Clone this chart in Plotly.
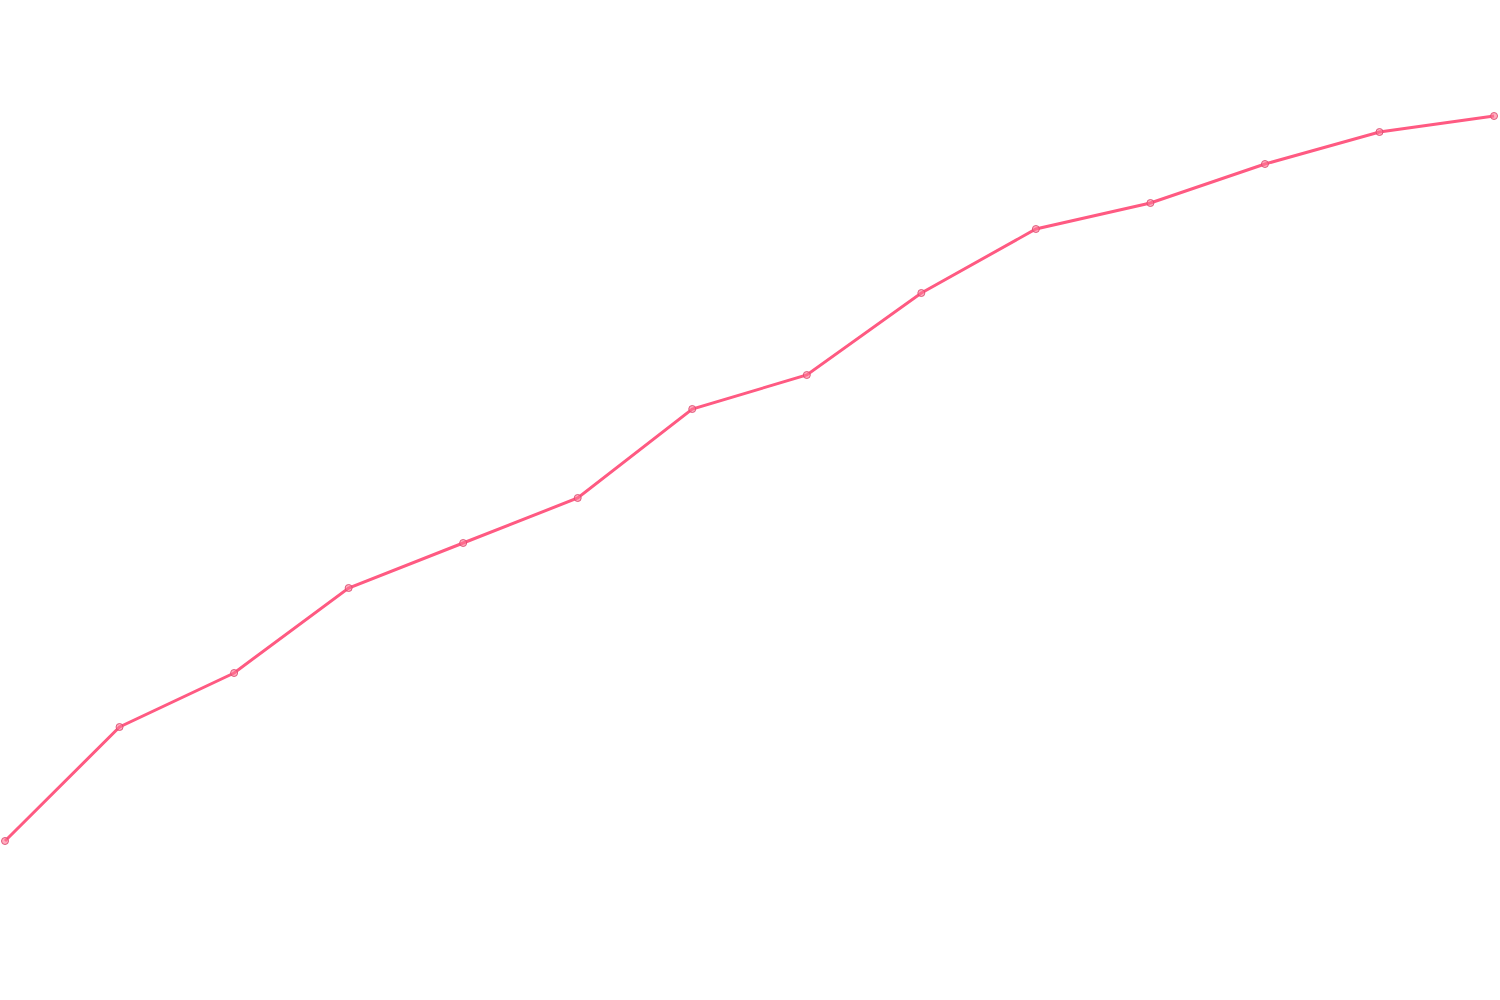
import plotly.graph_objects as go

# 14 evenly spaced points
steps = list(range(14))
values = [159, 273, 327, 412, 457, 502, 591, 625, 707, 771, 797, 836, 868, 884]

fig = go.Figure()
fig.add_trace(go.Scatter(
    x=steps,
    y=values,
    mode='lines+markers',
    line=dict(color='#ff5a82', width=3),
    marker=dict(size=7, color='rgba(255,120,150,0.6)',
                line=dict(color='rgba(220,80,115,0.9)', width=1)),
    showlegend=False,
))

fig.update_layout(
    width=1500,
    height=1000,
    margin=dict(l=0, r=0, t=0, b=0),
    paper_bgcolor='white',
    plot_bgcolor='white',
    xaxis=dict(range=[-0.0437, 13.052], visible=False),
    yaxis=dict(range=[0, 1000], visible=False),
)

# drop the browser's default body margin so the figure sits at the page corner
fig.write_html("out.html", config={'displayModeBar': False},
               post_script="document.body.style.margin='0';")
